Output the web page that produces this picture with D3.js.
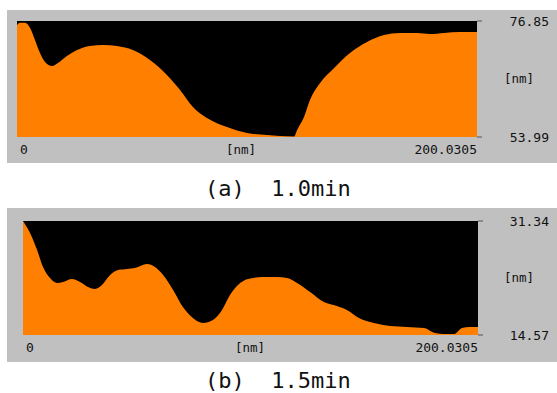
<!DOCTYPE html>
<html>
<head>
<meta charset="utf-8">
<script src="https://cdn.jsdelivr.net/npm/d3@7"></script>
<style>
  body { margin: 0; background: #fff; }
  svg { display: block; }
</style>
</head>
<body>
<svg id="chart" width="557" height="393"></svg>
<script>
// profile (a) 1.0 min : position [nm] and height [nm]
const posA = [0, 1.3, 3.5, 5.7, 7.8, 10.0, 12.2, 15.2, 17.8, 21.7, 26.1, 31.7, 37.4, 43.5, 50.4, 57.8,
  65.2, 70.9, 76.5, 82.6, 91.3, 100.0, 108.7, 114.4, 120.5, 121.8, 124.8, 127.4, 131.8, 137.9,
  144.8, 152.2, 159.6, 166.5, 173.9, 179.6, 185.7, 192.6, 200.03];
const hA = [76.06, 76.52, 76.52, 75.47, 73.11, 70.54, 68.77, 67.98, 68.57, 69.95, 71.13, 71.92, 72.12, 71.92, 71.13, 69.16,
  66.21, 63.25, 59.90, 57.73, 55.96, 54.78, 54.38, 54.19, 54.09, 55.37, 57.93, 61.28, 64.63, 67.59,
  70.54, 72.71, 74.09, 74.49, 74.49, 74.29, 74.49, 74.68, 74.68];

// profile (b) 1.5 min
const posB = [0, 3.1, 6.2, 8.8, 11.9, 15.0, 17.6, 21.5, 25.1, 28.6, 31.7, 34.7, 38.3, 41.8, 45.7, 49.2,
  54.5, 58.0, 61.6, 66.0, 70.3, 74.7, 79.1, 83.5, 87.5, 91.0, 94.5, 98.9, 105.5, 111.7, 116.1,
  120.5, 126.2, 132.3, 138.0, 142.4, 147.7, 154.3, 161.3, 168.8, 176.3, 181.1, 185.1, 189.5,
  193.0, 196.5, 200.03];
const hB = [31.34, 29.57, 27.07, 24.57, 22.95, 22.22, 22.37, 22.81, 22.37, 21.63, 21.34, 21.92, 23.40, 24.13, 24.28, 24.43,
  25.01, 24.57, 23.40, 21.19, 18.69, 17.07, 16.33, 16.78, 18.25, 20.45, 21.92, 22.81, 23.10, 23.10, 22.95,
  22.22, 20.90, 19.42, 18.84, 18.25, 17.07, 16.33, 15.89, 15.75, 15.60, 14.86, 14.72, 14.72,
  15.60, 15.75, 15.75];

const xMax = 200.0305;
const yRangeA = [53.99, 76.85];
const yRangeB = [14.57, 31.34];
const captions = ["(a)  1.0min", "(b)  1.5min"];

const svg = d3.select("#chart");
const mono = "'DejaVu Sans Mono', monospace";

function panel(pos, h, yDom, box, plot, caption, capY, unitX) {
    // grey frame
    svg.append("rect")
        .attr("x", box.x).attr("y", box.y)
        .attr("width", box.w).attr("height", box.h)
        .attr("fill", "#c0c0c0");

    var x = d3.scaleLinear().domain([0, xMax]).range([plot.x0, plot.x1]);
    var y = d3.scaleLinear().domain(yDom).range([plot.y1, plot.y0]);

    svg.append("rect")
        .attr("x", plot.x0).attr("y", plot.y0)
        .attr("width", plot.x1 - plot.x0).attr("height", plot.y1 - plot.y0)
        .attr("fill", "#000");

    var area = d3.area()
        .x(function (d, i) { return x(pos[i]); })
        .y0(y(yDom[0]))
        .y1(function (d) { return y(d); })
        .curve(d3.curveMonotoneX);

    svg.append("path")
        .datum(h)
        .attr("d", area)
        .attr("fill", "#ff8000");

    // little ticks at the right end of the plot
    yDom.forEach(function (v) {
        svg.append("line")
            .attr("x1", plot.x1).attr("x2", plot.x1 + 5)
            .attr("y1", y(v)).attr("y2", y(v))
            .attr("stroke", "#555").attr("stroke-width", 1);
    });

    var lab = svg.append("g")
        .attr("font-family", mono)
        .attr("font-size", 13)
        .attr("fill", "#111");

    lab.append("text").attr("x", 549).attr("y", y(yDom[1]) + 5)
        .attr("text-anchor", "end").text(yDom[1].toFixed(2));
    lab.append("text").attr("x", 549).attr("y", y(yDom[0]) + 5)
        .attr("text-anchor", "end").text(yDom[0].toFixed(2));
    lab.append("text").attr("x", 519).attr("y", (plot.y0 + plot.y1) / 2 + 4)
        .attr("text-anchor", "middle").attr("font-size", 12.5).text("[nm]");

    var by = plot.y1 + 17;
    lab.append("text").attr("x", x(0) + 3).attr("y", by).text("0");
    lab.append("text").attr("x", unitX).attr("y", by)
        .attr("text-anchor", "middle").attr("font-size", 12.5).text("[nm]");
    lab.append("text").attr("x", x(xMax)).attr("y", by)
        .attr("text-anchor", "end").text("200.0305");

    svg.append("text")
        .attr("x", 205).attr("y", capY)
        .attr("font-family", mono)
        .attr("font-size", 22)
        .attr("fill", "#111")
        .attr("xml:space", "preserve")
        .style("white-space", "pre")
        .text(caption);
}

panel(posA, hA, yRangeA,
    { x: 7, y: 10, w: 550, h: 153 },
    { x0: 17, x1: 477, y0: 21, y1: 137 },
    captions[0], 196, 241);

panel(posB, hB, yRangeB,
    { x: 7, y: 208, w: 550, h: 154 },
    { x0: 23, x1: 478, y0: 221, y1: 335 },
    captions[1], 388, 250);
</script>
</body>
</html>
